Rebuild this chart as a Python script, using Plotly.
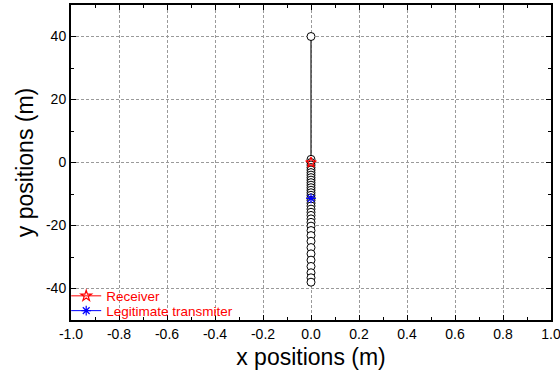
import plotly.graph_objects as go

# Node positions along the vertical line (x = 0)
node_x = [0.0] * 36
node_y = [40, 1, 0, -0.8, -1.6, -2.4, -3.2, -4.0, -4.8, -5.6, -6.4, -7.2, -8.0,
          -8.8, -9.6, -10.4, -11.2, -12.0, -12.9, -13.8, -14.8, -15.8, -16.8,
          -17.9, -19.0, -20.2, -21.6, -23.2, -25.0, -27.0, -29.0, -31.0, -33.0,
          -35.0, -36.6, -38.0]

receiver_x = [0.0]
receiver_y = [0.0]
transmitter_x = [0.0]
transmitter_y = [-11.4]

x_ticks = [-1.0, -0.8, -0.6, -0.4, -0.2, 0.0, 0.2, 0.4, 0.6, 0.8, 1.0]
x_tick_text = ["-1.0", "-0.8", "-0.6", "-0.4", "-0.2", "0.0", "0.2", "0.4", "0.6", "0.8", "1.0"]
y_ticks = [-40, -20, 0, 20, 40]
y_tick_text = ["-40", "-20", "0", "20", "40"]

FONT = "Liberation Sans, Arial"

fig = go.Figure()

fig.add_trace(go.Scatter(
    x=node_x, y=node_y, mode="lines+markers",
    line=dict(color="#444444", width=1.5),
    marker=dict(symbol="circle", size=8, color="white",
                line=dict(color="black", width=1)),
    showlegend=False,
))

fig.add_trace(go.Scatter(
    x=receiver_x, y=receiver_y, mode="lines+markers", name="Receiver",
    line=dict(color="red", width=1),
    marker=dict(symbol="star-open", size=8, color="red",
                line=dict(color="red", width=1.2)),
    legend="legend",
))

fig.add_trace(go.Scatter(
    x=transmitter_x, y=transmitter_y, mode="lines+markers", name="Legitimate transmiter",
    line=dict(color="blue", width=1),
    marker=dict(symbol="asterisk-open", size=8, color="blue",
                line=dict(color="blue", width=1.2)),
    legend="legend2",
))

axis_common = dict(
    showline=True, linecolor="black", linewidth=2, mirror="allticks",
    ticks="inside", ticklen=5, tickcolor="black", tickwidth=1,
    showgrid=True, gridcolor="#9a9a9a", griddash="3px,2px", gridwidth=1,
    zeroline=False, automargin=False,
    tickfont=dict(family=FONT, size=14, color="black"),
)

fig.update_xaxes(
    range=[-1.0, 1.0], tickvals=x_ticks, ticktext=x_tick_text,
    ticklabeloverflow="allow",
    minor=dict(ticks="inside", dtick=0.1, ticklen=3, tickcolor="black", showgrid=False),
    title=dict(text="x positions (m)", font=dict(family=FONT, size=23, color="black"),
               standoff=8),
    **axis_common,
)
fig.update_yaxes(
    range=[-50, 50], tickvals=y_ticks, ticktext=y_tick_text,
    minor=dict(ticks="inside", dtick=10, ticklen=3, tickcolor="black", showgrid=False),
    title=dict(text="y positions (m)", font=dict(family=FONT, size=23, color="black"),
               standoff=6),
    **axis_common,
)

legend_common = dict(
    x=-0.01, xanchor="left", yanchor="middle",
    bgcolor="rgba(0,0,0,0)", font=dict(family=FONT, size=13.5, color="red"),
    itemwidth=30, borderwidth=0,
)

fig.update_layout(
    width=560, height=378,
    margin=dict(l=71, r=9, t=5, b=58, autoexpand=False),
    plot_bgcolor="white", paper_bgcolor="white",
    legend=dict(y=0.076, **legend_common),
    legend2=dict(y=0.029, **legend_common),
)

fig.write_html("out.html")
